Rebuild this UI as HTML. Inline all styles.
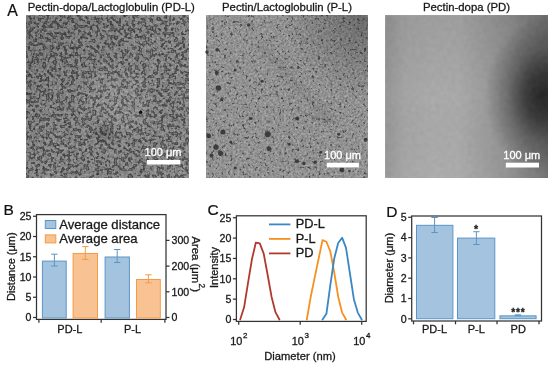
<!DOCTYPE html>
<html><head><meta charset="utf-8"><style>
html,body{margin:0;padding:0;background:#fff;}
svg{display:block;font-family:"Liberation Sans", Arial, sans-serif;}
</style></head><body>
<svg width="550" height="365" viewBox="0 0 550 365">

<defs>
<filter id="tex1" filterUnits="userSpaceOnUse" x="23" y="12" width="169" height="169" color-interpolation-filters="sRGB">
<feTurbulence type="fractalNoise" baseFrequency="0.28" numOctaves="2" seed="3" result="bn"/>
<feColorMatrix in="bn" type="matrix" values="0 0 0 0 0  0 0 0 0 0  0 0 0 0 0  10 0 0 0 -4.9" result="mask"/>
<feMorphology in="mask" operator="erode" radius="0.8" result="inner"/>
<feFlood flood-color="#8a8a8a" result="bg"/>
<feFlood flood-color="#787878" result="ic"/>
<feComposite in="ic" in2="inner" operator="in" result="icm"/>
<feFlood flood-color="#505050" result="rc"/>
<feComposite in="rc" in2="mask" operator="in" result="rcm"/>
<feMerge result="c1"><feMergeNode in="bg"/><feMergeNode in="rcm"/><feMergeNode in="icm"/></feMerge>
<feTurbulence type="fractalNoise" baseFrequency="0.42" numOctaves="2" seed="8" result="fn"/>
<feColorMatrix in="fn" type="matrix" values="1 0 0 0 0  1 0 0 0 0  1 0 0 0 0  0 0 0 0 1" result="fg"/>
<feComposite in="c1" in2="fg" operator="arithmetic" k1="0" k2="1" k3="0.3" k4="-0.15" result="c2"/>
<feGaussianBlur in="c2" stdDeviation="0.55"/>
</filter>
<filter id="tex2" filterUnits="userSpaceOnUse" x="203" y="12" width="168" height="169" color-interpolation-filters="sRGB">
<feTurbulence type="fractalNoise" baseFrequency="0.33" numOctaves="2" seed="4" result="bn"/>
<feColorMatrix in="bn" type="matrix" values="0 0 0 0 0  0 0 0 0 0  0 0 0 0 0  10 0 0 0 -6.3" result="mask"/>
<feMorphology in="mask" operator="erode" radius="0.8" result="inner"/>
<feFlood flood-color="#929292" result="bg"/>
<feFlood flood-color="#6a6a6a" result="ic"/>
<feComposite in="ic" in2="inner" operator="in" result="icm"/>
<feFlood flood-color="#555555" result="rc"/>
<feComposite in="rc" in2="mask" operator="in" result="rcm"/>
<feMerge result="c1"><feMergeNode in="bg"/><feMergeNode in="rcm"/><feMergeNode in="icm"/></feMerge>
<feTurbulence type="fractalNoise" baseFrequency="0.45" numOctaves="2" seed="9" result="fn"/>
<feColorMatrix in="fn" type="matrix" values="1 0 0 0 0  1 0 0 0 0  1 0 0 0 0  0 0 0 0 1" result="fg"/>
<feComposite in="c1" in2="fg" operator="arithmetic" k1="0" k2="1" k3="0.34" k4="-0.17" result="c2"/>
<feGaussianBlur in="c2" stdDeviation="0.55"/>
</filter>
<filter id="tex3" filterUnits="userSpaceOnUse" x="382" y="12" width="169" height="169" color-interpolation-filters="sRGB">
<feTurbulence type="fractalNoise" baseFrequency="0.25" numOctaves="2" seed="9" result="fn"/>
<feColorMatrix in="fn" type="matrix" values="1 0 0 0 0  1 0 0 0 0  1 0 0 0 0  0 0 0 0 1" result="fg"/>
<feComposite in="SourceGraphic" in2="fg" operator="arithmetic" k1="0" k2="1" k3="0.07" k4="-0.035" result="c2"/>
<feGaussianBlur in="c2" stdDeviation="0.8"/>
</filter>
<clipPath id="c1"><rect x="26" y="15" width="163" height="163"/></clipPath>
<clipPath id="c2"><rect x="206" y="15" width="162" height="163"/></clipPath>
<clipPath id="c3"><rect x="385" y="15" width="163" height="163"/></clipPath>
<filter id="soft" x="-20%" y="-20%" width="140%" height="140%"><feGaussianBlur stdDeviation="0.6"/></filter>
<filter id="blur3" x="-50%" y="-50%" width="200%" height="200%"><feGaussianBlur stdDeviation="3"/></filter>
<filter id="blur8" x="-50%" y="-50%" width="200%" height="200%"><feGaussianBlur stdDeviation="8"/></filter>
<linearGradient id="p1shade" x1="0" y1="0" x2="1" y2="1">
  <stop offset="0" stop-color="#000" stop-opacity="0.12"/>
  <stop offset="0.5" stop-color="#000" stop-opacity="0"/>
  <stop offset="1" stop-color="#fff" stop-opacity="0.03"/>
</linearGradient>
<radialGradient id="p2shade" gradientUnits="userSpaceOnUse" cx="368" cy="15" r="85">
  <stop offset="0" stop-color="#000" stop-opacity="0.28"/>
  <stop offset="1" stop-color="#000" stop-opacity="0"/>
</radialGradient>
<linearGradient id="g3lin" gradientUnits="userSpaceOnUse" x1="385" y1="0" x2="548" y2="0">
  <stop offset="0.45" stop-color="#202020" stop-opacity="0"/>
  <stop offset="0.75" stop-color="#202020" stop-opacity="0.18"/>
  <stop offset="1" stop-color="#202020" stop-opacity="0.42"/>
</linearGradient>
<radialGradient id="g3rad" gradientUnits="userSpaceOnUse" cx="543" cy="96" r="58" gradientTransform="translate(543 96) scale(1 1.35) translate(-543 -96)">
  <stop offset="0" stop-color="#202020" stop-opacity="0.92"/>
  <stop offset="0.3" stop-color="#202020" stop-opacity="0.7"/>
  <stop offset="0.6" stop-color="#202020" stop-opacity="0.32"/>
  <stop offset="1" stop-color="#202020" stop-opacity="0"/>
</radialGradient>
<linearGradient id="g3b" x1="0" y1="0" x2="1" y2="0">
  <stop offset="0" stop-color="#000" stop-opacity="0.12"/>
  <stop offset="0.12" stop-color="#000" stop-opacity="0.03"/>
  <stop offset="0.3" stop-color="#000" stop-opacity="0"/>
  <stop offset="1" stop-color="#000" stop-opacity="0"/>
</linearGradient>
<linearGradient id="g3c" x1="0" y1="0" x2="0" y2="1">
  <stop offset="0" stop-color="#000" stop-opacity="0.07"/>
  <stop offset="0.5" stop-color="#000" stop-opacity="0"/>
  <stop offset="1" stop-color="#fff" stop-opacity="0.03"/>
</linearGradient>
</defs>

<rect width="550" height="365" fill="#fff"/>
<g clip-path="url(#c1)"><rect x="23" y="12" width="169" height="169" filter="url(#tex1)"/></g>
<rect x="26" y="15" width="163" height="163" fill="url(#p1shade)"/>
<g filter="url(#blur8)"><ellipse cx="118" cy="100" rx="34" ry="26" fill="#fff" fill-opacity="0.08" transform="rotate(40 118 100)"/></g>
<g filter="url(#blur3)"><ellipse cx="104" cy="133" rx="9" ry="7" fill="#000" fill-opacity="0.18"/></g>
<circle cx="140.7" cy="112.2" r="1.6" fill="#111" filter="url(#soft)"/>
<g clip-path="url(#c2)"><rect x="203" y="12" width="168" height="169" filter="url(#tex2)"/></g>
<rect x="206" y="15" width="162" height="163" fill="url(#p2shade)"/>
<g filter="url(#blur3)"><path d="M258 42 C 275 60, 300 90, 334 123" stroke="#000" stroke-opacity="0.07" stroke-width="9" fill="none"/></g>
<g filter="url(#soft)"><path d="M296 108 C 308 116, 322 120, 336 122" stroke="#000" stroke-opacity="0.12" stroke-width="1.6" fill="none"/></g>
<g filter="url(#soft)"><circle cx="218.4" cy="88" r="2.8" fill="#2e2e2e" fill-opacity="0.85"/><circle cx="216.8" cy="73" r="2" fill="#2e2e2e" fill-opacity="0.85"/><circle cx="217.2" cy="49.8" r="1.8" fill="#2e2e2e" fill-opacity="0.85"/><circle cx="207" cy="52" r="1.8" fill="#2e2e2e" fill-opacity="0.85"/><circle cx="248.7" cy="25" r="1.8" fill="#2e2e2e" fill-opacity="0.85"/><circle cx="235.2" cy="70" r="1.5" fill="#2e2e2e" fill-opacity="0.85"/><circle cx="262.2" cy="81.3" r="1.5" fill="#2e2e2e" fill-opacity="0.85"/><circle cx="222.9" cy="132" r="2.6" fill="#2e2e2e" fill-opacity="0.85"/><circle cx="208.7" cy="136" r="2.4" fill="#2e2e2e" fill-opacity="0.85"/><circle cx="216.1" cy="147.2" r="2.6" fill="#2e2e2e" fill-opacity="0.85"/><circle cx="220.6" cy="153.3" r="2.6" fill="#2e2e2e" fill-opacity="0.85"/><circle cx="267.8" cy="134.2" r="3.0" fill="#2e2e2e" fill-opacity="0.85"/><circle cx="268.9" cy="148.8" r="2.4" fill="#2e2e2e" fill-opacity="0.85"/><circle cx="211.6" cy="155.5" r="2" fill="#2e2e2e" fill-opacity="0.85"/><circle cx="235.2" cy="168" r="1.6" fill="#2e2e2e" fill-opacity="0.85"/><circle cx="221.7" cy="99.4" r="1.5" fill="#2e2e2e" fill-opacity="0.85"/><circle cx="251" cy="118.5" r="1.6" fill="#2e2e2e" fill-opacity="0.85"/><circle cx="230.7" cy="142" r="1.5" fill="#2e2e2e" fill-opacity="0.85"/><circle cx="297.1" cy="118.5" r="2" fill="#2e2e2e" fill-opacity="0.85"/><circle cx="297.1" cy="161.2" r="2" fill="#2e2e2e" fill-opacity="0.85"/><circle cx="303.9" cy="163.4" r="1.8" fill="#2e2e2e" fill-opacity="0.85"/><circle cx="315.1" cy="162.3" r="1.8" fill="#2e2e2e" fill-opacity="0.85"/><circle cx="342" cy="170" r="2.4" fill="#2e2e2e" fill-opacity="0.85"/><circle cx="365.6" cy="139.8" r="2" fill="#2e2e2e" fill-opacity="0.85"/><circle cx="289.2" cy="144.3" r="1.5" fill="#2e2e2e" fill-opacity="0.85"/><circle cx="338.7" cy="134.2" r="1.5" fill="#2e2e2e" fill-opacity="0.85"/><circle cx="320.7" cy="152.2" r="1.5" fill="#2e2e2e" fill-opacity="0.85"/></g>
<g clip-path="url(#c3)"><g filter="url(#tex3)"><rect x="382" y="12" width="169" height="169" fill="#a9a9a9"/><rect x="382" y="12" width="169" height="169" fill="url(#g3lin)"/><rect x="382" y="12" width="169" height="169" fill="url(#g3rad)"/><rect x="385" y="15" width="163" height="163" fill="url(#g3b)"/><rect x="385" y="15" width="163" height="163" fill="url(#g3c)"/></g></g>
<rect x="147" y="160" width="33.4" height="4.5" fill="#fff"/>
<rect x="326.8" y="162.7" width="32.1" height="4.7" fill="#fff"/>
<rect x="505.8" y="162.7" width="33.2" height="4.8" fill="#fff"/>
<text x="163" y="155.8" font-size="11" text-anchor="middle" fill="#fff" stroke="#fff" stroke-width="0.3">100 &#956;m</text>
<text x="342.5" y="159" font-size="11" text-anchor="middle" fill="#fff" stroke="#fff" stroke-width="0.3">100 &#956;m</text>
<text x="521.8" y="159" font-size="11" text-anchor="middle" fill="#fff" stroke="#fff" stroke-width="0.3">100 &#956;m</text>
<text x="7.30" y="15.80" font-size="15.9" text-anchor="start" fill="#111" stroke="#111" stroke-width="0.2" >A</text>
<text x="3.60" y="214.60" font-size="15.5" text-anchor="start" fill="#111" stroke="#111" stroke-width="0.2" >B</text>
<text x="207.60" y="214.80" font-size="15.5" text-anchor="start" fill="#111" stroke="#111" stroke-width="0.2" >C</text>
<text x="386.20" y="216.60" font-size="15.5" text-anchor="start" fill="#111" stroke="#111" stroke-width="0.2" >D</text>
<rect x="36.50" y="214.60" width="129.50" height="104.80" fill="none" stroke="#333333" stroke-width="1.25" />
<line x1="33.00" y1="317.50" x2="36.50" y2="317.50" stroke="#333333" stroke-width="1.25" />
<text x="31.50" y="321.30" font-size="10.6" text-anchor="end" fill="#1a1a1a" stroke="#1a1a1a" stroke-width="0.3" >0</text>
<line x1="33.00" y1="297.25" x2="36.50" y2="297.25" stroke="#333333" stroke-width="1.25" />
<text x="31.50" y="301.05" font-size="10.6" text-anchor="end" fill="#1a1a1a" stroke="#1a1a1a" stroke-width="0.3" >5</text>
<line x1="33.00" y1="277.00" x2="36.50" y2="277.00" stroke="#333333" stroke-width="1.25" />
<text x="31.50" y="280.80" font-size="10.6" text-anchor="end" fill="#1a1a1a" stroke="#1a1a1a" stroke-width="0.3" >10</text>
<line x1="33.00" y1="256.75" x2="36.50" y2="256.75" stroke="#333333" stroke-width="1.25" />
<text x="31.50" y="260.55" font-size="10.6" text-anchor="end" fill="#1a1a1a" stroke="#1a1a1a" stroke-width="0.3" >15</text>
<line x1="33.00" y1="236.50" x2="36.50" y2="236.50" stroke="#333333" stroke-width="1.25" />
<text x="31.50" y="240.30" font-size="10.6" text-anchor="end" fill="#1a1a1a" stroke="#1a1a1a" stroke-width="0.3" >20</text>
<line x1="33.00" y1="216.25" x2="36.50" y2="216.25" stroke="#333333" stroke-width="1.25" />
<text x="31.50" y="220.05" font-size="10.6" text-anchor="end" fill="#1a1a1a" stroke="#1a1a1a" stroke-width="0.3" >25</text>
<line x1="166.00" y1="317.50" x2="169.50" y2="317.50" stroke="#333333" stroke-width="1.25" />
<text x="171.50" y="321.30" font-size="10.6" text-anchor="start" fill="#1a1a1a" stroke="#1a1a1a" stroke-width="0.3" >0</text>
<line x1="166.00" y1="291.80" x2="169.50" y2="291.80" stroke="#333333" stroke-width="1.25" />
<text x="171.50" y="295.60" font-size="10.6" text-anchor="start" fill="#1a1a1a" stroke="#1a1a1a" stroke-width="0.3" >100</text>
<line x1="166.00" y1="266.10" x2="169.50" y2="266.10" stroke="#333333" stroke-width="1.25" />
<text x="171.50" y="269.90" font-size="10.6" text-anchor="start" fill="#1a1a1a" stroke="#1a1a1a" stroke-width="0.3" >200</text>
<line x1="166.00" y1="240.40" x2="169.50" y2="240.40" stroke="#333333" stroke-width="1.25" />
<text x="171.50" y="244.20" font-size="10.6" text-anchor="start" fill="#1a1a1a" stroke="#1a1a1a" stroke-width="0.3" >300</text>
<line x1="38.90" y1="319.40" x2="38.90" y2="322.70" stroke="#333333" stroke-width="1.25" />
<line x1="101.20" y1="319.40" x2="101.20" y2="322.70" stroke="#333333" stroke-width="1.25" />
<line x1="164.90" y1="319.40" x2="164.90" y2="322.70" stroke="#333333" stroke-width="1.25" />
<text x="69.90" y="332.60" font-size="11" text-anchor="middle" fill="#1a1a1a" stroke="#1a1a1a" stroke-width="0.3" >PD-L</text>
<text x="132.60" y="332.60" font-size="11" text-anchor="middle" fill="#1a1a1a" stroke="#1a1a1a" stroke-width="0.3" >P-L</text>
<text x="0.00" y="0.00" font-size="11" text-anchor="middle" fill="#1a1a1a" stroke="#1a1a1a" stroke-width="0.3" transform="translate(15.2 266.7) rotate(-90)">Distance (&#956;m)</text>
<text x="0.00" y="0.00" font-size="11.3" text-anchor="start" fill="#1a1a1a" stroke="#1a1a1a" stroke-width="0.3" transform="translate(192.0 236.5) rotate(90)">Area (&#956;m<tspan font-size="8.2" dy="-6.8" dx="0.4">2</tspan><tspan dy="6.8">)</tspan></text>
<rect x="42.40" y="261.10" width="23.80" height="56.90" fill="#a4c3de" stroke="#5b95c8" stroke-width="1.0" />
<line x1="54.40" y1="254.20" x2="54.40" y2="266.00" stroke="#5b95c8" stroke-width="1.0" />
<line x1="51.20" y1="254.20" x2="57.60" y2="254.20" stroke="#5b95c8" stroke-width="1.0" />
<line x1="51.20" y1="266.00" x2="57.60" y2="266.00" stroke="#5b95c8" stroke-width="1.0" />
<rect x="73.10" y="253.50" width="24.40" height="64.50" fill="#f8c292" stroke="#f59a45" stroke-width="1.0" />
<line x1="85.30" y1="246.60" x2="85.30" y2="259.40" stroke="#f59a45" stroke-width="1.0" />
<line x1="82.10" y1="246.60" x2="88.50" y2="246.60" stroke="#f59a45" stroke-width="1.0" />
<line x1="82.10" y1="259.40" x2="88.50" y2="259.40" stroke="#f59a45" stroke-width="1.0" />
<rect x="105.10" y="257.00" width="24.30" height="61.00" fill="#a4c3de" stroke="#5b95c8" stroke-width="1.0" />
<line x1="117.20" y1="249.50" x2="117.20" y2="262.50" stroke="#5b95c8" stroke-width="1.0" />
<line x1="114.00" y1="249.50" x2="120.40" y2="249.50" stroke="#5b95c8" stroke-width="1.0" />
<line x1="114.00" y1="262.50" x2="120.40" y2="262.50" stroke="#5b95c8" stroke-width="1.0" />
<rect x="136.50" y="279.50" width="23.80" height="38.50" fill="#f8c292" stroke="#f59a45" stroke-width="1.0" />
<line x1="148.40" y1="274.80" x2="148.40" y2="282.80" stroke="#f59a45" stroke-width="1.0" />
<line x1="145.20" y1="274.80" x2="151.60" y2="274.80" stroke="#f59a45" stroke-width="1.0" />
<line x1="145.20" y1="282.80" x2="151.60" y2="282.80" stroke="#f59a45" stroke-width="1.0" />
<rect x="45.30" y="220.50" width="10.50" height="8.00" fill="#a4c3de" stroke="#5b95c8" stroke-width="1.0" />
<rect x="45.30" y="234.90" width="10.50" height="8.00" fill="#f8c292" stroke="#f59a45" stroke-width="1.0" />
<text x="59.20" y="228.60" font-size="13.1" text-anchor="start" fill="#1a1a1a" stroke="#1a1a1a" stroke-width="0.3" >Average distance</text>
<text x="59.20" y="243.00" font-size="13.1" text-anchor="start" fill="#1a1a1a" stroke="#1a1a1a" stroke-width="0.3" >Average area</text>
<rect x="236.40" y="215.80" width="129.80" height="105.60" fill="none" stroke="#333333" stroke-width="1.25" />
<line x1="232.90" y1="319.50" x2="236.40" y2="319.50" stroke="#333333" stroke-width="1.25" />
<text x="231.40" y="323.30" font-size="10.6" text-anchor="end" fill="#1a1a1a" stroke="#1a1a1a" stroke-width="0.3" >0</text>
<line x1="232.90" y1="299.15" x2="236.40" y2="299.15" stroke="#333333" stroke-width="1.25" />
<text x="231.40" y="302.95" font-size="10.6" text-anchor="end" fill="#1a1a1a" stroke="#1a1a1a" stroke-width="0.3" >5</text>
<line x1="232.90" y1="278.80" x2="236.40" y2="278.80" stroke="#333333" stroke-width="1.25" />
<text x="231.40" y="282.60" font-size="10.6" text-anchor="end" fill="#1a1a1a" stroke="#1a1a1a" stroke-width="0.3" >10</text>
<line x1="232.90" y1="258.45" x2="236.40" y2="258.45" stroke="#333333" stroke-width="1.25" />
<text x="231.40" y="262.25" font-size="10.6" text-anchor="end" fill="#1a1a1a" stroke="#1a1a1a" stroke-width="0.3" >15</text>
<line x1="232.90" y1="238.10" x2="236.40" y2="238.10" stroke="#333333" stroke-width="1.25" />
<text x="231.40" y="241.90" font-size="10.6" text-anchor="end" fill="#1a1a1a" stroke="#1a1a1a" stroke-width="0.3" >20</text>
<line x1="232.90" y1="217.75" x2="236.40" y2="217.75" stroke="#333333" stroke-width="1.25" />
<text x="231.40" y="221.55" font-size="10.6" text-anchor="end" fill="#1a1a1a" stroke="#1a1a1a" stroke-width="0.3" >25</text>
<line x1="238.70" y1="321.40" x2="238.70" y2="324.70" stroke="#333333" stroke-width="1.25" />
<text x="230.30" y="345.40" font-size="10.9" text-anchor="start" fill="#1a1a1a" stroke="#1a1a1a" stroke-width="0.3" >10<tspan font-size="8" dy="-7.6" dx="0.6">2</tspan></text>
<line x1="300.20" y1="321.40" x2="300.20" y2="324.70" stroke="#333333" stroke-width="1.25" />
<text x="291.80" y="345.40" font-size="10.9" text-anchor="start" fill="#1a1a1a" stroke="#1a1a1a" stroke-width="0.3" >10<tspan font-size="8" dy="-7.6" dx="0.6">3</tspan></text>
<line x1="361.70" y1="321.40" x2="361.70" y2="324.70" stroke="#333333" stroke-width="1.25" />
<text x="353.30" y="345.40" font-size="10.9" text-anchor="start" fill="#1a1a1a" stroke="#1a1a1a" stroke-width="0.3" >10<tspan font-size="8" dy="-7.6" dx="0.6">4</tspan></text>
<text x="300.00" y="359.80" font-size="11.2" text-anchor="middle" fill="#1a1a1a" stroke="#1a1a1a" stroke-width="0.3" >Diameter (nm)</text>
<text x="0.00" y="0.00" font-size="11" text-anchor="middle" fill="#1a1a1a" stroke="#1a1a1a" stroke-width="0.3" transform="translate(218.3 267.5) rotate(-90)">Intensity</text>
<polyline points="240.18,319.50 244.10,307.29 248.02,282.87 251.94,259.26 255.86,242.58 259.78,243.39 263.70,253.57 267.62,274.73 271.54,296.71 275.46,312.17 279.38,319.50" fill="none" stroke="#b03a2e" stroke-width="1.8" stroke-linejoin="round" stroke-linecap="round"/>
<polyline points="306.82,319.50 310.74,296.71 314.66,277.58 318.58,258.86 322.50,240.13 326.42,241.76 330.34,251.53 334.26,272.69 338.18,296.71 342.10,312.58 346.02,319.50" fill="none" stroke="#f7901e" stroke-width="1.8" stroke-linejoin="round" stroke-linecap="round"/>
<polyline points="322.50,319.50 326.42,313.80 330.34,284.90 334.26,258.45 338.18,242.98 342.10,237.69 346.02,247.87 349.94,273.51 353.86,299.15 357.78,312.58 361.70,319.50" fill="none" stroke="#3a87c4" stroke-width="1.8" stroke-linejoin="round" stroke-linecap="round"/>
<line x1="269.00" y1="224.40" x2="290.40" y2="224.40" stroke="#3a87c4" stroke-width="1.8" />
<text x="295.70" y="228.40" font-size="12.8" text-anchor="start" fill="#1a1a1a" stroke="#1a1a1a" stroke-width="0.3" >PD-L</text>
<line x1="269.00" y1="238.90" x2="290.40" y2="238.90" stroke="#f7901e" stroke-width="1.8" />
<text x="295.70" y="242.90" font-size="12.8" text-anchor="start" fill="#1a1a1a" stroke="#1a1a1a" stroke-width="0.3" >P-L</text>
<line x1="269.00" y1="253.40" x2="290.40" y2="253.40" stroke="#b03a2e" stroke-width="1.8" />
<text x="295.70" y="257.40" font-size="12.8" text-anchor="start" fill="#1a1a1a" stroke="#1a1a1a" stroke-width="0.3" >PD</text>
<rect x="411.70" y="216.00" width="129.80" height="105.00" fill="none" stroke="#333333" stroke-width="1.25" />
<line x1="408.20" y1="318.80" x2="411.70" y2="318.80" stroke="#333333" stroke-width="1.25" />
<text x="406.70" y="322.60" font-size="10.6" text-anchor="end" fill="#1a1a1a" stroke="#1a1a1a" stroke-width="0.3" >0</text>
<line x1="408.20" y1="298.50" x2="411.70" y2="298.50" stroke="#333333" stroke-width="1.25" />
<text x="406.70" y="302.30" font-size="10.6" text-anchor="end" fill="#1a1a1a" stroke="#1a1a1a" stroke-width="0.3" >1</text>
<line x1="408.20" y1="278.20" x2="411.70" y2="278.20" stroke="#333333" stroke-width="1.25" />
<text x="406.70" y="282.00" font-size="10.6" text-anchor="end" fill="#1a1a1a" stroke="#1a1a1a" stroke-width="0.3" >2</text>
<line x1="408.20" y1="257.90" x2="411.70" y2="257.90" stroke="#333333" stroke-width="1.25" />
<text x="406.70" y="261.70" font-size="10.6" text-anchor="end" fill="#1a1a1a" stroke="#1a1a1a" stroke-width="0.3" >3</text>
<line x1="408.20" y1="237.60" x2="411.70" y2="237.60" stroke="#333333" stroke-width="1.25" />
<text x="406.70" y="241.40" font-size="10.6" text-anchor="end" fill="#1a1a1a" stroke="#1a1a1a" stroke-width="0.3" >4</text>
<line x1="408.20" y1="217.30" x2="411.70" y2="217.30" stroke="#333333" stroke-width="1.25" />
<text x="406.70" y="221.10" font-size="10.6" text-anchor="end" fill="#1a1a1a" stroke="#1a1a1a" stroke-width="0.3" >5</text>
<line x1="413.50" y1="321.00" x2="413.50" y2="324.30" stroke="#333333" stroke-width="1.25" />
<line x1="455.50" y1="321.00" x2="455.50" y2="324.30" stroke="#333333" stroke-width="1.25" />
<line x1="497.00" y1="321.00" x2="497.00" y2="324.30" stroke="#333333" stroke-width="1.25" />
<line x1="539.00" y1="321.00" x2="539.00" y2="324.30" stroke="#333333" stroke-width="1.25" />
<text x="434.50" y="333.00" font-size="11" text-anchor="middle" fill="#1a1a1a" stroke="#1a1a1a" stroke-width="0.3" >PD-L</text>
<text x="476.30" y="333.00" font-size="11" text-anchor="middle" fill="#1a1a1a" stroke="#1a1a1a" stroke-width="0.3" >P-L</text>
<text x="518.20" y="333.00" font-size="11" text-anchor="middle" fill="#1a1a1a" stroke="#1a1a1a" stroke-width="0.3" >PD</text>
<text x="0.00" y="0.00" font-size="11" text-anchor="middle" fill="#1a1a1a" stroke="#1a1a1a" stroke-width="0.3" transform="translate(393.3 268.1) rotate(-90)">Diameter (&#956;m)</text>
<rect x="416.50" y="225.31" width="36.40" height="93.39" fill="#a4c3de" stroke="#5b95c8" stroke-width="1.0" />
<line x1="434.60" y1="217.50" x2="434.60" y2="232.53" stroke="#5b95c8" stroke-width="1.0" />
<line x1="431.40" y1="217.50" x2="437.80" y2="217.50" stroke="#5b95c8" stroke-width="1.0" />
<line x1="431.40" y1="232.53" x2="437.80" y2="232.53" stroke="#5b95c8" stroke-width="1.0" />
<rect x="457.50" y="238.10" width="37.30" height="80.60" fill="#a4c3de" stroke="#5b95c8" stroke-width="1.0" />
<line x1="476.40" y1="231.71" x2="476.40" y2="244.50" stroke="#5b95c8" stroke-width="1.0" />
<line x1="473.20" y1="231.71" x2="479.60" y2="231.71" stroke="#5b95c8" stroke-width="1.0" />
<line x1="473.20" y1="244.50" x2="479.60" y2="244.50" stroke="#5b95c8" stroke-width="1.0" />
<rect x="499.90" y="315.85" width="36.20" height="2.85" fill="#a4c3de" stroke="#5b95c8" stroke-width="1.0" />
<line x1="518.00" y1="314.84" x2="518.00" y2="315.75" stroke="#5b95c8" stroke-width="1.0" />
<line x1="514.80" y1="314.84" x2="521.20" y2="314.84" stroke="#5b95c8" stroke-width="1.0" />
<line x1="514.80" y1="315.75" x2="521.20" y2="315.75" stroke="#5b95c8" stroke-width="1.0" />
<text x="476.10" y="233.40" font-size="10.6" text-anchor="middle" fill="#1a1a1a" stroke="#1a1a1a" stroke-width="0.3" font-weight="bold">*</text>
<text x="518.30" y="315.90" font-size="10.2" text-anchor="middle" fill="#1a1a1a" stroke="#1a1a1a" stroke-width="0.3" font-weight="bold" letter-spacing="0.7">***</text>
<text x="111.20" y="11.00" font-size="11.35" text-anchor="middle" fill="#1a1a1a" stroke="#1a1a1a" stroke-width="0.3" >Pectin-dopa/Lactoglobulin (PD-L)</text>
<text x="287.00" y="11.00" font-size="11.35" text-anchor="middle" fill="#1a1a1a" stroke="#1a1a1a" stroke-width="0.3" >Pectin/Lactoglobulin (P-L)</text>
<text x="466.50" y="11.00" font-size="11.35" text-anchor="middle" fill="#1a1a1a" stroke="#1a1a1a" stroke-width="0.3" >Pectin-dopa (PD)</text>
</svg>
</body></html>
